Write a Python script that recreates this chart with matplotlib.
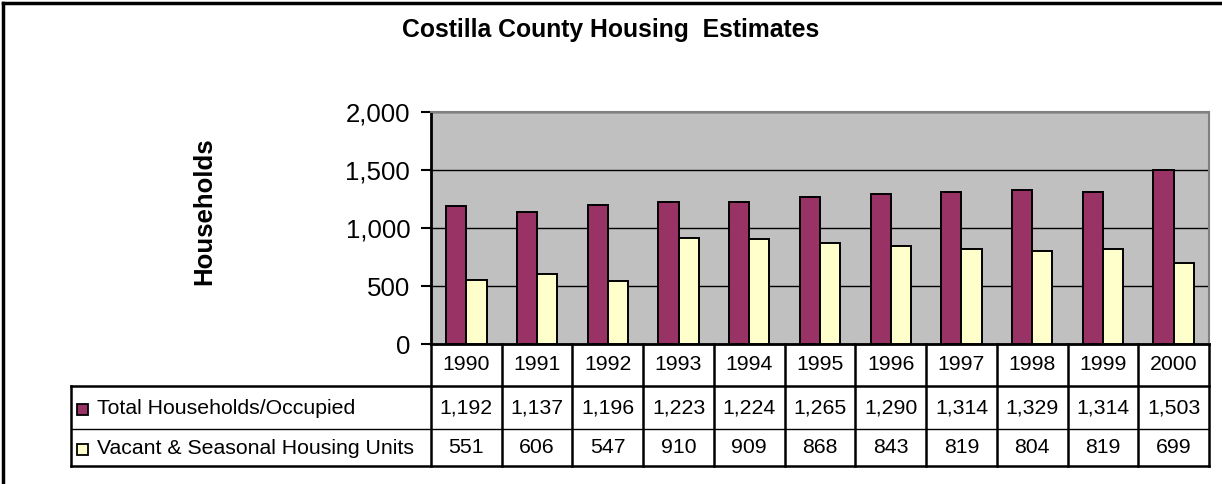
import matplotlib
matplotlib.use("Agg")
import matplotlib.pyplot as plt
import matplotlib.transforms as mtransforms
from matplotlib.patches import Rectangle
from matplotlib.lines import Line2D
import numpy as np

plt.rcParams['font.family'] = ['Liberation Sans', 'DejaVu Sans']

title = "Costilla County Housing  Estimates"
ylabel = "Households"
years = ["1990", "1991", "1992", "1993", "1994", "1995", "1996", "1997", "1998", "1999", "2000"]
series_names = ["Total Households/Occupied", "Vacant & Seasonal Housing Units"]
occupied = [1192, 1137, 1196, 1223, 1224, 1265, 1290, 1314, 1329, 1314, 1503]
vacant = [551, 606, 547, 910, 909, 868, 843, 819, 804, 819, 699]
colors = ["#993366", "#FFFFCC"]
yticks = [0, 500, 1000, 1500, 2000]

W, H = 1222, 484
fig = plt.figure(figsize=(W / 100, H / 100), dpi=100)

# plot area in pixels
L, R, T, B = 431, 1209, 112, 344
ax = fig.add_axes([L / W, 1 - B / H, (R - L) / W, (B - T) / H])
ax.set_facecolor("#C0C0C0")

x = np.arange(len(years))
bw = 1 / 3.5
ax.bar(x - bw / 2, occupied, width=bw, color=colors[0], edgecolor="black", linewidth=1.4, zorder=3)
ax.bar(x + bw / 2, vacant, width=bw, color=colors[1], edgecolor="black", linewidth=1.4, zorder=3)

ax.set_xlim(-0.5, len(years) - 0.5)
ax.set_ylim(0, 2000)
ax.set_yticks(yticks)
ax.set_yticklabels([f"{v:,}" for v in yticks], fontsize=18.6)
ax.set_xticks([])
ax.yaxis.grid(True, color="black", linewidth=1.0, zorder=1)
ax.set_axisbelow(True)
ax.tick_params(axis="y", direction="out", length=7, width=1.5, pad=8, colors="black")
for s in ["top", "right"]:
    ax.spines[s].set_color("#808080")
    ax.spines[s].set_linewidth(1.5)
for s in ["left", "bottom"]:
    ax.spines[s].set_color("black")
    ax.spines[s].set_linewidth(2)

fig.text(611 / W, 1 - 30 / H, title, ha="center", va="center", fontsize=17.8, fontweight="bold")
fig.text(204 / W, 1 - 211 / H, ylabel, ha="center", va="center", rotation=90, fontsize=18.5, fontweight="bold")

# data table
def fy(p):
    return (B - p) / (B - T)

def fx(p):
    return (p - L) / (R - L)

fs_tab = 15.3
trans = mtransforms.blended_transform_factory(ax.transData, ax.transAxes)
rows_y = [fy(365), fy(407.5), fy(447.5)]
for i, yr in enumerate(years):
    ax.text(i, rows_y[0], yr, transform=trans, ha="center", va="center", fontsize=fs_tab, clip_on=False)
    ax.text(i, rows_y[1], f"{occupied[i]:,}", transform=trans, ha="center", va="center", fontsize=fs_tab, clip_on=False)
    ax.text(i, rows_y[2], f"{vacant[i]:,}", transform=trans, ha="center", va="center", fontsize=fs_tab, clip_on=False)

lw = 1.8
# horizontal lines
for p, w in [(386, lw), (429, 1.0), (466, lw)]:
    ax.add_line(Line2D([fx(71), 1], [fy(p), fy(p)], transform=ax.transAxes, color="black", lw=w, clip_on=False))
# vertical lines at category boundaries
for k in range(len(years) + 1):
    ax.add_line(Line2D([k - 0.5, k - 0.5], [0, fy(466)], transform=trans, color="black", lw=lw, clip_on=False))
ax.add_line(Line2D([fx(71), fx(71)], [fy(386), fy(466)], transform=ax.transAxes, color="black", lw=lw, clip_on=False))

# legend keys and labels
for j, (name, c) in enumerate(zip(series_names, colors)):
    yc = 409 if j == 0 else 449
    ax.add_patch(Rectangle((fx(77), fy(yc + 5.5)), fx(88) - fx(77), fy(yc - 5.5) - fy(yc + 5.5),
                           transform=ax.transAxes, facecolor=c, edgecolor="black", lw=1.3, clip_on=False))
    ax.text(fx(97), fy(yc), name, transform=ax.transAxes, ha="left", va="center", fontsize=fs_tab, clip_on=False)

# outer border (left and top)
fig.add_artist(Line2D([3 / W, 3 / W], [0, 1 - 3 / H], transform=fig.transFigure, color="black", lw=2.5))
fig.add_artist(Line2D([3 / W, 1], [1 - 3 / H, 1 - 3 / H], transform=fig.transFigure, color="black", lw=2.5))

fig.savefig("out.png", dpi=100)
